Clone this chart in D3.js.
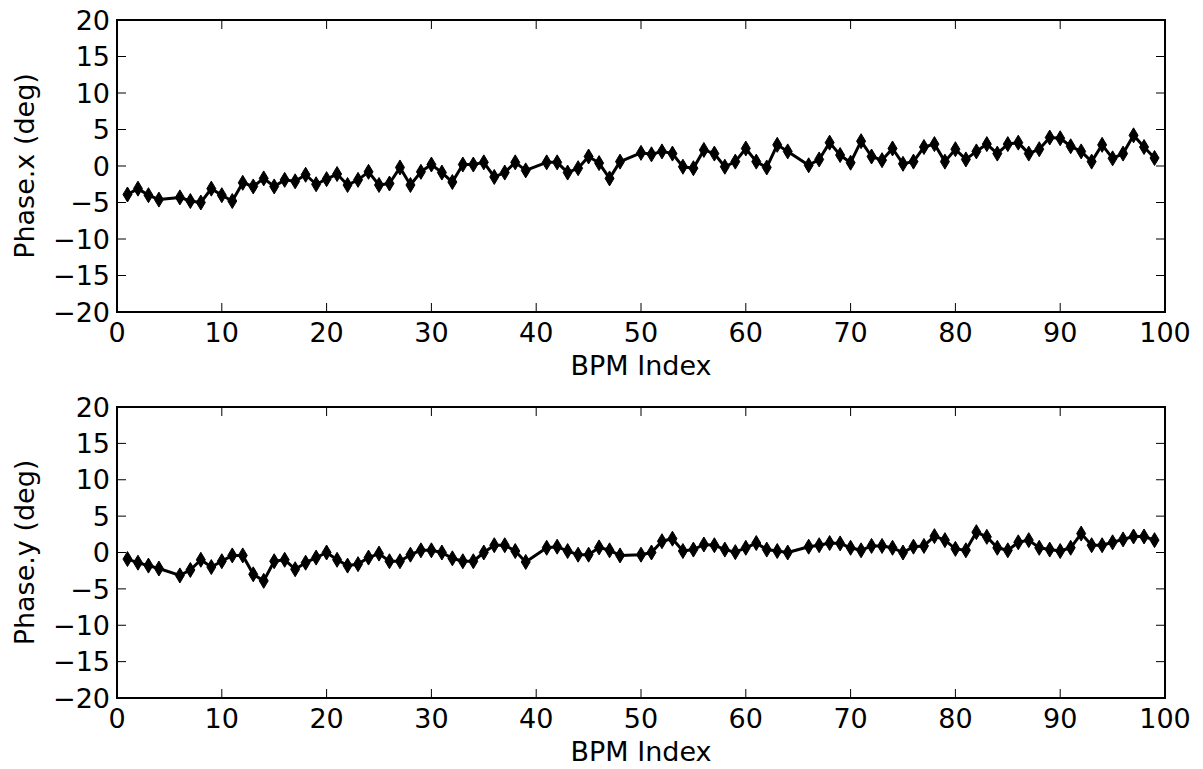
<!DOCTYPE html>
<html>
<head>
<meta charset="utf-8">
<script src="https://cdn.jsdelivr.net/npm/d3@7"></script>
<style>
  body { margin: 0; background: #fff; }
  text { font-family: "DejaVu Sans", sans-serif; fill: #000; }
</style>
</head>
<body>
<div id="chart"></div>
<script>
// BPM indices (5, 40, 49, 65 are missing in the measurement)
var bpmIndex = [1,2,3,4,6,7,8,9,10,11,12,13,14,15,16,17,18,19,20,21,22,23,24,25,26,27,28,29,30,
  31,32,33,34,35,36,37,38,39,41,42,43,44,45,46,47,48,50,51,52,53,54,55,56,57,58,59,60,
  61,62,63,64,66,67,68,69,70,71,72,73,74,75,76,77,78,79,80,81,82,83,84,85,86,87,88,89,90,
  91,92,93,94,95,96,97,98,99];

var phaseX = [-3.9,-3.1,-4.0,-4.6,-4.3,-4.8,-5.0,-3.1,-4.0,-4.8,-2.3,-2.8,-1.7,-2.8,-1.9,-2.1,-1.2,-2.5,-1.8,-1.1,
  -2.6,-1.9,-0.8,-2.6,-2.4,-0.2,-2.6,-0.8,0.2,-0.9,-2.2,0.2,0.2,0.5,-1.5,-0.9,0.5,-0.6,0.5,0.5,
  -0.9,-0.3,1.3,0.4,-1.7,0.6,1.8,1.6,2.0,1.7,-0.1,-0.3,2.2,1.7,-0.1,0.6,2.4,0.6,-0.2,2.9,
  2.0,0.1,0.9,3.2,1.5,0.45,3.4,1.3,0.8,2.4,0.3,0.6,2.6,3.0,0.6,2.3,0.9,2.0,3.0,1.7,
  3.0,3.2,1.7,2.3,3.9,3.8,2.7,2.0,0.6,2.9,1.05,1.7,4.2,2.6,1.1];

var phaseY = [-0.9,-1.4,-1.8,-2.2,-3.15,-2.4,-1.0,-2.0,-1.2,-0.4,-0.4,-3.0,-3.9,-1.2,-1.0,-2.3,-1.4,-0.7,0.0,-1.0,
  -1.8,-1.6,-0.7,-0.15,-1.2,-1.2,-0.3,0.3,0.3,0.0,-0.8,-1.2,-1.2,0.0,1.0,1.0,0.2,-1.3,0.65,0.8,
  0.2,-0.3,-0.3,0.7,0.3,-0.4,-0.3,0.0,1.55,1.9,0.2,0.4,1.1,1.0,0.4,0.05,0.65,1.3,0.4,0.2,
  0.0,0.8,1.0,1.3,1.25,0.65,0.3,0.9,0.9,0.65,0.0,0.8,0.9,2.25,1.7,0.5,0.3,2.8,2.15,0.65,
  0.3,1.4,1.7,0.65,0.4,0.2,0.65,2.6,1.0,1.0,1.4,1.8,2.2,2.2,1.7];

var xTicks = [0,10,20,30,40,50,60,70,80,90,100];
var yTicks = [-20,-15,-10,-5,0,5,10,15,20];

var W = 1203, H = 769;
var left = 117, right = 1165;
var panels = [
  { top: 20,  bottom: 312, values: phaseX, label: "Phase.x (deg)" },
  { top: 407, bottom: 698, values: phaseY, label: "Phase.y (deg)" }
];

var svg = d3.select('#chart').append('svg')
  .attr('width', W)
  .attr('height', H);

var x = d3.scaleLinear().domain([0, 100]).range([left, right]);
var fs = 27;
var tickLen = 9;

// thin diamond marker
var dw = 4.5, dh = 7.5;
var diamond = 'M0,' + (-dh) + 'L' + dw + ',0L0,' + dh + 'L' + (-dw) + ',0Z';

panels.forEach(function(p){
  var y = d3.scaleLinear().domain([-20, 20]).range([p.bottom, p.top]);
  var g = svg.append('g');

  // inward ticks on all four sides
  g.selectAll('.xt').data(xTicks).enter().append('line')
    .attr('x1', function(d){ return x(d); }).attr('x2', function(d){ return x(d); })
    .attr('y1', p.bottom).attr('y2', p.bottom - tickLen)
    .attr('stroke', '#000').attr('stroke-width', 1);
  g.selectAll('.xt2').data(xTicks).enter().append('line')
    .attr('x1', function(d){ return x(d); }).attr('x2', function(d){ return x(d); })
    .attr('y1', p.top).attr('y2', p.top + tickLen)
    .attr('stroke', '#000').attr('stroke-width', 1);
  g.selectAll('.yt').data(yTicks).enter().append('line')
    .attr('x1', left).attr('x2', left + tickLen)
    .attr('y1', function(d){ return y(d); }).attr('y2', function(d){ return y(d); })
    .attr('stroke', '#000').attr('stroke-width', 1);
  g.selectAll('.yt2').data(yTicks).enter().append('line')
    .attr('x1', right).attr('x2', right - tickLen)
    .attr('y1', function(d){ return y(d); }).attr('y2', function(d){ return y(d); })
    .attr('stroke', '#000').attr('stroke-width', 1);

  // tick labels
  var fmt = d3.format('d');
  g.selectAll('.xl').data(xTicks).enter().append('text')
    .attr('x', function(d){ return x(d); })
    .attr('y', p.bottom + 30)
    .attr('text-anchor', 'middle')
    .style('font-size', fs + 'px')
    .text(function(d){ return fmt(d); });
  g.selectAll('.yl').data(yTicks).enter().append('text')
    .attr('x', left - 7)
    .attr('y', function(d){ return y(d); })
    .attr('dy', '0.36em')
    .attr('text-anchor', 'end')
    .style('font-size', fs + 'px')
    .text(function(d){ return fmt(d); });

  // axis titles
  g.append('text')
    .attr('x', (left + right) / 2)
    .attr('y', p.bottom + 63)
    .attr('text-anchor', 'middle')
    .style('font-size', fs + 'px')
    .text('BPM Index');
  g.append('text')
    .attr('transform', 'translate(33.5,' + ((p.top + p.bottom) / 2) + ') rotate(-90)')
    .attr('text-anchor', 'middle')
    .style('font-size', fs + 'px')
    .text(p.label);

  // data line
  var pts = bpmIndex.map(function(b, i){ return [b, p.values[i]]; });
  var line = d3.line()
    .x(function(d){ return x(d[0]); })
    .y(function(d){ return y(d[1]); });
  g.append('path')
    .attr('d', line(pts))
    .attr('fill', 'none')
    .attr('stroke', '#000')
    .attr('stroke-width', 3)
    .attr('stroke-linejoin', 'round');

  g.selectAll('.pt').data(pts).enter().append('path')
    .attr('d', diamond)
    .attr('transform', function(d){ return 'translate(' + x(d[0]) + ',' + y(d[1]) + ')'; })
    .attr('fill', '#000')
    .attr('stroke', '#000')
    .attr('stroke-width', 1);

  // frame
  g.append('rect')
    .attr('x', left).attr('y', p.top)
    .attr('width', right - left).attr('height', p.bottom - p.top)
    .attr('fill', 'none')
    .attr('stroke', '#000')
    .attr('stroke-width', 2);
});
</script>
</body>
</html>
